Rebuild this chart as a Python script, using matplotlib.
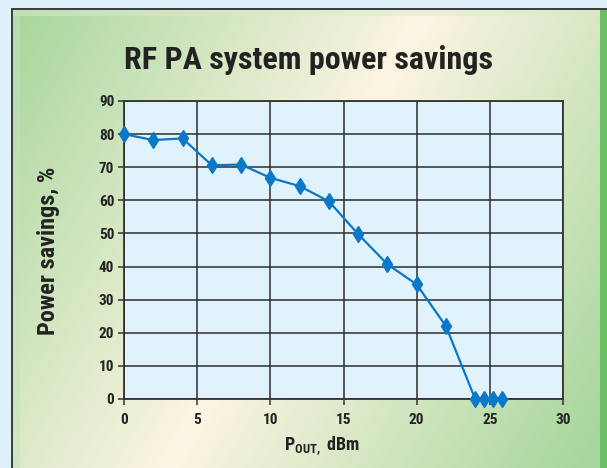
import numpy as np
import matplotlib.pyplot as plt

# Data
pout_dbm = [0, 2, 4, 6, 8, 10, 12, 14, 16, 18, 20, 22, 24, 24.6, 25.2, 25.8]
savings_pct = [80, 78.2, 78.7, 70.6, 70.8, 66.8, 64.3, 59.7, 49.8, 40.7, 34.6, 22.0, 0, 0, 0, 0]
x_ticks = [0, 5, 10, 15, 20, 25, 30]
y_ticks = [0, 10, 20, 30, 40, 50, 60, 70, 80, 90]

FONT = ['Roboto Condensed', 'DejaVu Sans']
plt.rcParams['font.family'] = FONT
plt.rcParams['font.weight'] = 'bold'
plt.rcParams['mathtext.fontset'] = 'custom'
plt.rcParams['mathtext.rm'] = 'Roboto Condensed:bold'
plt.rcParams['mathtext.bf'] = 'Roboto Condensed:bold'

W, H = 607, 468
fig = plt.figure(figsize=(W / 100, H / 100), dpi=100)

# Background panel: diagonal green -> cream -> green gradient
green = np.array([0.65, 0.84, 0.61])
cream = np.array([0.99, 0.96, 0.89])
yy, xx = np.mgrid[0:H, 0:W]
t = 0.87 * xx + 0.49 * yy
s = np.clip(np.abs(t - 375) / 365, 0, 1)[..., None]
img = cream + (green - cream) * s
# outer page colour, frame line and bevel strips
img[:8, :] = [0.88, 0.95, 0.98]
img[:, :11] = [0.88, 0.95, 0.98]
img[8:10, 11:] = [0.25, 0.25, 0.25]
img[8:, 11:13] = [0.25, 0.25, 0.25]
img[10:16, 13:600] = img[10:16, 13:600] * 0.5 + np.array([0.84, 0.92, 0.80]) * 0.5
img[16:, 13:20] = img[16:, 13:20] * 0.5 + np.array([0.76, 0.89, 0.73]) * 0.5
img[10:, 600:] = [0.42, 0.75, 0.39]

bg = fig.add_axes([0, 0, 1, 1], zorder=-1)
bg.imshow(img, aspect='auto', extent=[0, W, H, 0])
bg.axis('off')

# Main plot area
ax = fig.add_axes([124 / W, 69 / H, 439 / W, 298 / H])
ax.set_facecolor('#e0f2fc')
ax.plot(pout_dbm, savings_pct, color='#0a78c8', lw=1.6, marker='d',
        markersize=8.5, clip_on=False, zorder=3)

ax.set_xlim(0, 30)
ax.set_ylim(0, 90)
ax.set_xticks(x_ticks)
ax.set_yticks(y_ticks)
ax.grid(True, color='#2e2e2e', lw=1.1)
ax.set_axisbelow(True)
for sp in ax.spines.values():
    sp.set_color('#333333')
    sp.set_linewidth(1.3)
ax.tick_params(direction='out', length=4, width=1.1, color='#333333',
               labelsize=11, pad=3, labelcolor='#222222')
ax.tick_params(axis='x', pad=6)
for lbl in ax.get_xticklabels() + ax.get_yticklabels():
    lbl.set_fontweight('bold')

fig.text(309 / W, 1 - 60 / H, 'RF PA system power savings', ha='center', va='center',
         fontsize=23, fontweight='bold', color='#222222')
fig.text(49 / W, 1 - 251 / H, 'Power savings, %', ha='center', va='center', rotation=90,
         fontsize=17.5, fontweight='bold', color='#222222')
fig.text(322 / W, 1 - 446 / H, r'P$_{\mathrm{OUT,}}$ dBm', ha='center', va='center',
         fontsize=13, fontweight='bold', color='#222222')

fig.savefig('out.png', dpi=100)
